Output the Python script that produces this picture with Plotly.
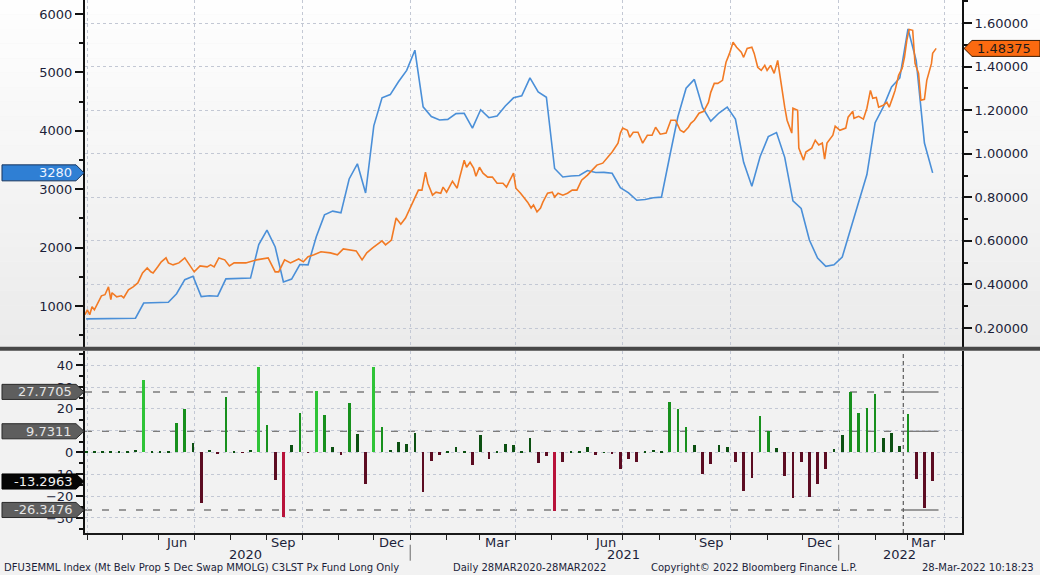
import pandas as pd
import plotly.graph_objects as go

# weekly series (Tuesdays) - fund long positions and weekly % change
week_dates = pd.date_range("2020-03-31", periods=104, freq="7D")

blue_vals = [780, 780, 780, 780, 780, 780, 790, 1050, 1053, 1056,
             1065, 1210, 1450, 1510, 1160, 1175, 1168, 1465, 1468, 1464,
             1478, 2050, 2300, 2010, 1412, 1460, 1710, 1705, 2185, 2560,
             2625, 2595, 3175, 3435, 2935, 4085, 4565, 4620, 4840, 5035,
             5380, 4410, 4245, 4185, 4195, 4295, 4300, 4045, 4360, 4225,
             4255, 4425, 4565, 4600, 4905, 4665, 4575, 3355, 3210, 3225,
             3235, 3320, 3285, 3288, 3272, 3025, 2938, 2810, 2824, 2855,
             2864, 3560, 4240, 4730, 4880, 4400, 4165, 4305, 4405, 4200,
             3460, 3050, 3555, 3900, 3970, 3545, 2800, 2670, 2130, 1820,
             1680, 1705, 1838, 2310, 2765, 3250, 4140, 4410, 4750, 4905,
             5745, 5200, 3790, 3280]

chg_vals = [0.3, 0.3, 0.3, 0.3, 0.3, 0.3, 1.2, 33.2, 0.3, 0.3,
            0.8, 13.2, 20.0, 4.3, -23.3, 1.2, -0.6, 25.5, 0.3, -0.3,
            1.0, 38.9, 12.3, -12.6, -29.8, 3.5, 18.1, -0.3, 28.1, 17.1,
            2.5, -1.1, 22.4, 8.2, -14.6, 39.2, 11.7, 1.2, 4.8, 4.0,
            8.6, -18.0, -3.8, -1.4, 0.3, 2.5, 0.2, -6.0, 7.8, -3.1,
            0.8, 4.0, 3.2, 0.8, 6.6, -4.9, -1.9, -26.7, -4.4, 0.5,
            0.3, 2.6, -1.1, 0.1, -0.5, -7.5, -2.9, -4.4, 0.5, 1.1,
            0.3, 23.2, 20.0, 11.5, 3.2, -9.8, -5.4, 3.4, 2.3, -4.6,
            -17.7, -11.8, 16.6, 9.9, 1.8, -10.7, -21.0, -4.6, -20.3, -14.6,
            -7.6, 1.5, 7.8, 27.5, 18.1, 20.1, 26.6, 6.3, 8.6, 2.9,
            17.4, -12.1, -25.6, -13.3]

# daily swap price (right axis)
orange_dates = [
    "2020-03-30", "2020-04-01", "2020-04-03", "2020-04-05", "2020-04-07", "2020-04-10", "2020-04-13",
    "2020-04-16", "2020-04-19", "2020-04-21", "2020-04-22", "2020-04-26", "2020-04-30",
    "2020-05-02", "2020-05-06", "2020-05-10", "2020-05-14", "2020-05-18", "2020-05-22", "2020-05-25",
    "2020-05-27", "2020-05-31",
    "2020-06-03", "2020-06-07", "2020-06-09", "2020-06-13", "2020-06-18", "2020-06-23", "2020-06-27",
    "2020-07-01", "2020-07-06", "2020-07-12", "2020-07-15", "2020-07-18", "2020-07-22", "2020-07-27",
    "2020-07-31",
    "2020-08-04", "2020-08-14", "2020-08-23",
    "2020-09-02", "2020-09-04", "2020-09-08", "2020-09-11", "2020-09-16", "2020-09-21", "2020-09-28",
    "2020-10-02", "2020-10-06", "2020-10-11", "2020-10-17", "2020-10-25", "2020-10-31",
    "2020-11-05", "2020-11-12", "2020-11-16", "2020-11-21", "2020-11-25", "2020-11-30",
    "2020-12-05", "2020-12-08", "2020-12-11", "2020-12-16", "2020-12-20", "2020-12-24", "2020-12-28",
    "2020-12-30",
    "2021-01-03", "2021-01-08", "2021-01-11", "2021-01-14", "2021-01-16", "2021-01-20", "2021-01-23",
    "2021-01-27", "2021-01-29",
    "2021-02-01", "2021-02-06", "2021-02-10", "2021-02-12", "2021-02-16", "2021-02-18", "2021-02-21",
    "2021-02-24", "2021-02-26",
    "2021-03-01", "2021-03-04", "2021-03-08", "2021-03-12", "2021-03-16", "2021-03-21", "2021-03-24",
    "2021-03-28", "2021-03-30",
    "2021-04-01", "2021-04-05", "2021-04-11", "2021-04-14", "2021-04-16", "2021-04-19", "2021-04-22",
    "2021-04-24", "2021-04-28",
    "2021-05-02", "2021-05-04", "2021-05-07", "2021-05-11", "2021-05-15", "2021-05-19", "2021-05-23",
    "2021-05-27",
    "2021-06-01", "2021-06-05", "2021-06-09", "2021-06-14", "2021-06-18", "2021-06-22", "2021-06-27",
    "2021-06-29",
    "2021-07-01", "2021-07-05", "2021-07-07", "2021-07-10", "2021-07-14", "2021-07-18", "2021-07-22",
    "2021-07-26", "2021-07-29",
    "2021-08-02", "2021-08-07", "2021-08-11", "2021-08-15", "2021-08-19", "2021-08-22", "2021-08-26",
    "2021-08-28", "2021-08-31",
    "2021-09-04", "2021-09-08", "2021-09-12", "2021-09-14", "2021-09-17", "2021-09-20", "2021-09-24",
    "2021-09-27", "2021-09-30",
    "2021-10-03", "2021-10-06", "2021-10-10", "2021-10-12", "2021-10-15", "2021-10-19", "2021-10-21",
    "2021-10-24", "2021-10-27", "2021-10-30",
    "2021-11-01", "2021-11-04", "2021-11-07", "2021-11-10", "2021-11-12", "2021-11-15", "2021-11-16",
    "2021-11-18", "2021-11-22", "2021-11-23", "2021-11-27", "2021-11-28",
    "2021-12-02", "2021-12-04", "2021-12-09", "2021-12-12", "2021-12-15", "2021-12-18", "2021-12-20",
    "2021-12-22", "2021-12-27", "2021-12-29",
    "2022-01-02", "2022-01-07", "2022-01-09", "2022-01-13", "2022-01-14", "2022-01-18", "2022-01-22",
    "2022-01-25", "2022-01-28", "2022-01-30",
    "2022-02-02", "2022-02-04", "2022-02-08", "2022-02-11", "2022-02-13", "2022-02-16", "2022-02-18",
    "2022-02-21", "2022-02-24", "2022-02-26", "2022-02-28",
    "2022-03-02", "2022-03-05", "2022-03-07", "2022-03-10", "2022-03-12", "2022-03-15", "2022-03-17",
    "2022-03-21", "2022-03-22", "2022-03-25"]

orange_vals = [
    0.261, 0.284, 0.261, 0.298, 0.284, 0.320, 0.348,
    0.353, 0.389, 0.330, 0.362, 0.343, 0.348,
    0.339, 0.375, 0.389, 0.407, 0.453, 0.476, 0.458,
    0.453, 0.481,
    0.504, 0.522, 0.499, 0.490, 0.499, 0.522, 0.490,
    0.458, 0.485, 0.481, 0.490, 0.481, 0.522, 0.513,
    0.485,
    0.499, 0.499, 0.513,
    0.522, 0.499, 0.458, 0.458, 0.513, 0.499, 0.517,
    0.504, 0.527, 0.536, 0.550, 0.545, 0.536,
    0.563, 0.559, 0.554, 0.513, 0.545, 0.568,
    0.586, 0.600, 0.582, 0.604, 0.705, 0.677, 0.705,
    0.728,
    0.778, 0.833, 0.833, 0.916, 0.865, 0.810, 0.824,
    0.819, 0.847,
    0.824, 0.874, 0.842, 0.888, 0.970, 0.938, 0.961,
    0.934, 0.897,
    0.938, 0.911, 0.893, 0.893, 0.865, 0.865, 0.847,
    0.893, 0.911,
    0.842, 0.819, 0.778, 0.751, 0.765, 0.733, 0.751,
    0.778, 0.819,
    0.824, 0.801, 0.819, 0.810, 0.819, 0.833, 0.833,
    0.879,
    0.902, 0.925, 0.948, 0.957, 0.985, 1.008, 1.049,
    1.095,
    1.118, 1.108, 1.076, 1.099, 1.099, 1.049, 1.085,
    1.085, 1.122,
    1.090, 1.095, 1.154, 1.154, 1.108, 1.099, 1.122,
    1.140, 1.154,
    1.186, 1.195, 1.236, 1.282, 1.323, 1.323, 1.337,
    1.420, 1.461,
    1.512, 1.489, 1.466, 1.443, 1.484, 1.489, 1.461,
    1.397, 1.383, 1.406,
    1.383, 1.406, 1.369, 1.429, 1.351, 1.246, 1.214,
    1.154, 1.095, 1.209, 1.200, 1.026,
    0.971, 1.008, 1.026, 1.062, 1.040, 1.049, 0.975,
    1.049, 1.085, 1.127,
    1.108, 1.118, 1.168, 1.195, 1.163, 1.172, 1.159,
    1.209, 1.291, 1.255,
    1.259, 1.214, 1.223, 1.236, 1.214, 1.259, 1.291,
    1.360, 1.392, 1.443, 1.521,
    1.571, 1.567, 1.415, 1.369, 1.246, 1.250, 1.337,
    1.415, 1.461, 1.48375]

assert len(orange_dates) == len(orange_vals)

levels = [27.7705, 9.7311, -26.3476]
last_chg = -13.2963
last_blue = 3280
last_orange = 1.48375

month_labels = ["Jun", "Sep", "Dec", "Mar", "Jun", "Sep", "Dec", "Mar"]
month_label_dates = ["2020-06-16", "2020-09-15", "2020-12-16", "2021-03-16",
                     "2021-06-16", "2021-09-15", "2021-12-16", "2022-03-14"]
year_labels = ["2020", "2021", "2022"]
year_label_dates = ["2020-08-14", "2021-07-02", "2022-02-22"]
year_breaks = ["2021-01-01", "2022-01-01"]
band_break = "2022-02-25"
band_end = "2022-03-27"

FONT = "DejaVu Sans"
TXT = "#1c1f3a"
GRID = "#c3c8d4"
x_range = ["2020-03-30", "2022-04-16"]


def bar_color(v):
    if v > levels[0]:
        return "#2fc437"
    if v > levels[1]:
        return "#17901d"
    if v >= 0:
        return "#0c5012"
    if v > levels[2]:
        return "#5c0c22"
    return "#b8123a"


def pp(px):
    # figure pixel -> paper x
    return (px - 85) / 877.0


fig = go.Figure()
fig.add_trace(go.Scatter(x=week_dates, y=blue_vals, mode="lines", xaxis="x", yaxis="y",
                         line=dict(color="#4a8fd8", width=1.6), hoverinfo="x+y"))
fig.add_trace(go.Scatter(x=orange_dates, y=orange_vals, mode="lines", xaxis="x", yaxis="y2",
                         line=dict(color="#f27a24", width=1.6), hoverinfo="x+y"))
fig.add_trace(go.Bar(x=week_dates, y=chg_vals, xaxis="x2", yaxis="y3",
                     marker=dict(color=[bar_color(v) for v in chg_vals], line=dict(width=0)),
                     width=2.3 * 86400000))

shapes = []
# gradient background of top panel
top0 = 0.3455
nb = 24
for i in range(nb):
    c = int(235 + (255 - 235) * (i + 0.5) / nb)
    shapes.append(dict(type="rect", xref="paper", yref="paper", x0=-0.1, x1=1.1,
                       y0=top0 + (1 - top0) * i / nb, y1=top0 + (1 - top0) * (i + 1) / nb,
                       fillcolor="rgb(%d,%d,%d)" % (c, c, c), line=dict(width=0), layer="below"))

# level lines in lower panel
for lv in levels:
    shapes.append(dict(type="line", xref="x2", yref="y3", x0=x_range[0], x1=band_break, y0=lv, y1=lv,
                       line=dict(color="#7c7c7c", width=1.5, dash="7px,10px"), layer="below"))
    shapes.append(dict(type="line", xref="x2", yref="y3", x0=band_break, x1=band_end, y0=lv, y1=lv,
                       line=dict(color="#7c7c7c", width=1.5), layer="below"))
shapes.append(dict(type="line", xref="x2", yref="y3 domain", x0=band_break, x1=band_break, y0=0, y1=1,
                   line=dict(color="#5a5a5a", width=1.2, dash="4px,3px")))

# separator between panels
shapes.append(dict(type="line", xref="paper", yref="paper", x0=-0.1, x1=1.1, y0=0.3455, y1=0.3455,
                   line=dict(color="#474747", width=4)))

# year separators below the axis
for d in year_breaks:
    shapes.append(dict(type="line", xref="x2", yref="paper", x0=d, x1=d, y0=-0.022, y1=-0.052,
                       line=dict(color="#6a6a6a", width=1)))


def tag_left(yref, yc, hh, fill, border):
    a, b, t = pp(2), pp(76), pp(84)
    path = "M %f,%f L %f,%f L %f,%f L %f,%f L %f,%f Z" % (
        a, yc - hh, b, yc - hh, t, yc, b, yc + hh, a, yc + hh)
    return dict(type="path", xref="paper", yref=yref, path=path, fillcolor=fill,
                line=dict(color=border, width=1), layer="above")


annotations = []
# blue last value
shapes.append(tag_left("y", last_blue, 8 * 17.12, "#2f7fd4", "#17345e"))
annotations.append(dict(xref="paper", yref="y", x=pp(74), y=last_blue, text=str(last_blue),
                        showarrow=False, xanchor="right", yanchor="middle",
                        font=dict(family=FONT, size=13, color="#eef4ff")))

# orange last value (right side)
t, b, e = pp(964), pp(972), pp(1040)
hh = 8 / 218.3
shapes.append(dict(type="path", xref="paper", yref="y2",
                   path="M %f,%f L %f,%f L %f,%f L %f,%f L %f,%f Z" % (
                       t, last_orange, b, last_orange - hh, e, last_orange - hh,
                       e, last_orange + hh, b, last_orange + hh),
                   fillcolor="#fb6a10", line=dict(color="#3a1a00", width=1), layer="above"))
annotations.append(dict(xref="paper", yref="y2", x=pp(975), y=last_orange, text="%.5f" % last_orange,
                        showarrow=False, xanchor="left", yanchor="middle",
                        font=dict(family=FONT, size=13, color="#1a1a1a")))

# lower panel tags
for lv in levels:
    shapes.append(tag_left("y3", lv, 7.5 / 2.17, "#5e5e5e", "#2a2a2a"))
    annotations.append(dict(xref="paper", yref="y3", x=pp(74), y=lv, text="%g" % lv,
                            showarrow=False, xanchor="right", yanchor="middle",
                            font=dict(family=FONT, size=13, color="#e4e4e4")))
shapes.append(tag_left("y3", last_chg, 7.5 / 2.17, "#050505", "#000000"))
annotations.append(dict(xref="paper", yref="y3", x=pp(74), y=last_chg, text="%g" % last_chg,
                        showarrow=False, xanchor="right", yanchor="middle",
                        font=dict(family=FONT, size=13, color="#f0f0f0")))

# month / year labels
for lab, d in zip(month_labels, month_label_dates):
    annotations.append(dict(xref="x2", yref="paper", x=d, y=-0.017, text=lab, showarrow=False,
                            xanchor="center", yanchor="middle",
                            font=dict(family=FONT, size=13, color=TXT)))
for lab, d in zip(year_labels, year_label_dates):
    annotations.append(dict(xref="x2", yref="paper", x=d, y=-0.040, text=lab, showarrow=False,
                            xanchor="center", yanchor="middle",
                            font=dict(family=FONT, size=13, color=TXT)))

# footer
foot = dict(family=FONT, size=10, color=TXT)
annotations.append(dict(xref="paper", yref="paper", x=pp(2), y=-0.0655, showarrow=False,
                        xanchor="left", yanchor="middle", font=foot,
                        text="DFU3EMML Index (Mt Belv Prop 5 Dec Swap MMOLG) C3LST Px Fund Long Only"))
annotations.append(dict(xref="paper", yref="paper", x=pp(451), y=-0.0655, showarrow=False,
                        xanchor="left", yanchor="middle", font=foot,
                        text="Daily 28MAR2020-28MAR2022"))
annotations.append(dict(xref="paper", yref="paper", x=pp(649), y=-0.0655, showarrow=False,
                        xanchor="left", yanchor="middle", font=foot,
                        text="Copyright© 2022 Bloomberg Finance L.P."))
annotations.append(dict(xref="paper", yref="paper", x=pp(1036), y=-0.0655, showarrow=False,
                        xanchor="right", yanchor="middle", font=foot,
                        text="28-Mar-2022 10:18:23"))

tickfont = dict(family=FONT, size=13, color=TXT)
fig.update_layout(
    width=1040, height=575,
    margin=dict(l=85, r=78, t=0, b=42),
    paper_bgcolor="#f2f2f2", plot_bgcolor="rgba(0,0,0,0)",
    showlegend=False, bargap=0,
    xaxis=dict(domain=[0, 1], anchor="y", range=x_range, type="date",
               showticklabels=False, ticks="", showline=False, zeroline=False,
               tick0="2020-01-01", dtick="M3", showgrid=True, gridcolor=GRID, griddash="dot"),
    xaxis2=dict(domain=[0, 1], anchor="y3", matches="x", range=x_range, type="date",
                showticklabels=False, ticks="outside", ticklen=5, tickcolor="#222",
                tick0="2020-01-01", dtick="M3",
                minor=dict(dtick="M1", tick0="2020-01-01", ticks="outside", ticklen=5,
                           tickcolor="#222", showgrid=False),
                showgrid=True, gridcolor=GRID, griddash="dot",
                showline=True, linecolor="#1a1a1a", linewidth=2, zeroline=False),
    yaxis=dict(domain=[0.349, 1], range=[298, 6240], dtick=1000, tick0=0,
               ticks="outside", ticklen=8, tickwidth=2, tickcolor="#111",
               minor=dict(dtick=500, ticks="outside", ticklen=4, tickcolor="#111", showgrid=False),
               showgrid=False, zeroline=False, showline=True, linecolor="#111", linewidth=2,
               tickfont=tickfont),
    yaxis2=dict(overlaying="y", side="right", anchor="x", range=[0.113, 1.706], tick0=0.2, dtick=0.2,
                tickformat=".5f", ticks="outside", ticklen=8, tickwidth=2, tickcolor="#111",
                minor=dict(dtick=0.1, ticks="outside", ticklen=4, tickcolor="#111", showgrid=False),
                showgrid=True, gridcolor=GRID, griddash="dot", zeroline=False,
                showline=True, linecolor="#111", linewidth=2, tickfont=tickfont),
    yaxis3=dict(domain=[0, 0.341], anchor="x2", range=[-36.9, 46.4], dtick=10, tick0=0,
                ticks="outside", ticklen=7, tickwidth=2, tickcolor="#111",
                minor=dict(dtick=5, ticks="outside", ticklen=4, tickcolor="#111", showgrid=False),
                showgrid=True, gridcolor=GRID, griddash="dot", zeroline=False,
                showline=True, mirror=True, linecolor="#111", linewidth=2, tickfont=tickfont),
    shapes=shapes,
    annotations=annotations,
)

# the page's default body margin would shift the figure; remove it
fig.write_html("out.html", config={"displayModeBar": False},
               post_script="document.body.style.margin='0px';document.body.style.overflow='hidden';")
